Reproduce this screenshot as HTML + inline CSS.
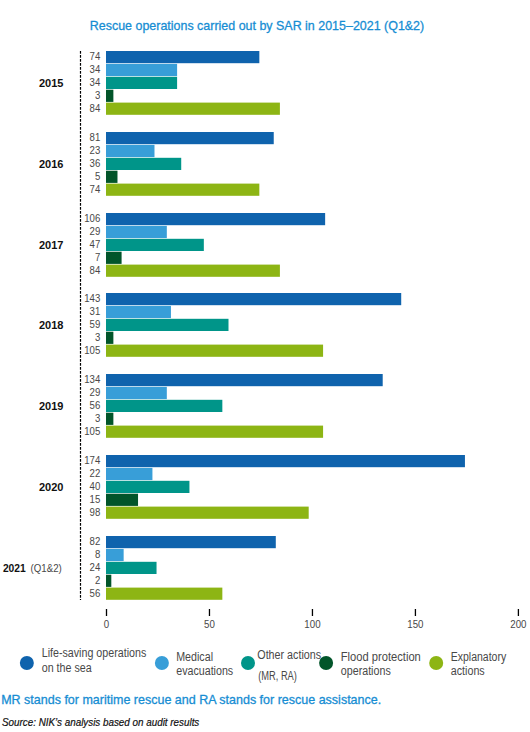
<!DOCTYPE html><html><head><meta charset="utf-8"><style>html,body{margin:0;padding:0;background:#fff;width:530px;height:732px;overflow:hidden}svg{display:block}text{font-family:"Liberation Sans",sans-serif}</style></head><body>
<svg width="530" height="732" viewBox="0 0 530 732">
<text x="89.8" y="29.8" font-size="13.6" stroke="#168dd3" stroke-width="0.3" fill="#168dd3" textLength="334.4" lengthAdjust="spacingAndGlyphs">Rescue operations carried out by SAR in 2015–2021 (Q1&amp;2)</text>
<line x1="80.5" y1="51" x2="80.5" y2="600" stroke="#000" stroke-width="1.2" stroke-dasharray="2.7 1.3"/>
<rect x="106" y="51.00" width="153.34" height="12.2" fill="#0f63ad"/>
<text x="100.3" y="60.25" font-size="11.2" fill="#484848" text-anchor="end" textLength="10.70" lengthAdjust="spacingAndGlyphs">74</text>
<rect x="106" y="63.90" width="71.10" height="12.2" fill="#389ed8"/>
<text x="100.3" y="73.15" font-size="11.2" fill="#484848" text-anchor="end" textLength="10.70" lengthAdjust="spacingAndGlyphs">34</text>
<rect x="106" y="76.80" width="71.10" height="12.2" fill="#009589"/>
<text x="100.3" y="86.05" font-size="11.2" fill="#484848" text-anchor="end" textLength="10.70" lengthAdjust="spacingAndGlyphs">34</text>
<rect x="106" y="89.70" width="7.37" height="12.2" fill="#02552a"/>
<text x="100.3" y="98.95" font-size="11.2" fill="#484848" text-anchor="end" textLength="5.35" lengthAdjust="spacingAndGlyphs">3</text>
<rect x="106" y="102.60" width="173.90" height="12.2" fill="#8db514"/>
<text x="100.3" y="111.85" font-size="11.2" fill="#484848" text-anchor="end" textLength="10.70" lengthAdjust="spacingAndGlyphs">84</text>
<text x="39" y="86.70" font-size="11" font-weight="bold" fill="#111" textLength="24.5" lengthAdjust="spacingAndGlyphs">2015</text>
<rect x="106" y="132.00" width="167.74" height="12.2" fill="#0f63ad"/>
<text x="100.3" y="141.25" font-size="11.2" fill="#484848" text-anchor="end" textLength="10.70" lengthAdjust="spacingAndGlyphs">81</text>
<rect x="106" y="144.90" width="48.49" height="12.2" fill="#389ed8"/>
<text x="100.3" y="154.15" font-size="11.2" fill="#484848" text-anchor="end" textLength="10.70" lengthAdjust="spacingAndGlyphs">23</text>
<rect x="106" y="157.80" width="75.22" height="12.2" fill="#009589"/>
<text x="100.3" y="167.05" font-size="11.2" fill="#484848" text-anchor="end" textLength="10.70" lengthAdjust="spacingAndGlyphs">36</text>
<rect x="106" y="170.70" width="11.48" height="12.2" fill="#02552a"/>
<text x="100.3" y="179.95" font-size="11.2" fill="#484848" text-anchor="end" textLength="5.35" lengthAdjust="spacingAndGlyphs">5</text>
<rect x="106" y="183.60" width="153.34" height="12.2" fill="#8db514"/>
<text x="100.3" y="192.85" font-size="11.2" fill="#484848" text-anchor="end" textLength="10.70" lengthAdjust="spacingAndGlyphs">74</text>
<text x="39" y="167.70" font-size="11" font-weight="bold" fill="#111" textLength="24.5" lengthAdjust="spacingAndGlyphs">2016</text>
<rect x="106" y="213.00" width="219.14" height="12.2" fill="#0f63ad"/>
<text x="100.3" y="222.25" font-size="11.2" fill="#484848" text-anchor="end" textLength="16.05" lengthAdjust="spacingAndGlyphs">106</text>
<rect x="106" y="225.90" width="60.82" height="12.2" fill="#389ed8"/>
<text x="100.3" y="235.15" font-size="11.2" fill="#484848" text-anchor="end" textLength="10.70" lengthAdjust="spacingAndGlyphs">29</text>
<rect x="106" y="238.80" width="97.83" height="12.2" fill="#009589"/>
<text x="100.3" y="248.05" font-size="11.2" fill="#484848" text-anchor="end" textLength="10.70" lengthAdjust="spacingAndGlyphs">47</text>
<rect x="106" y="251.70" width="15.59" height="12.2" fill="#02552a"/>
<text x="100.3" y="260.95" font-size="11.2" fill="#484848" text-anchor="end" textLength="5.35" lengthAdjust="spacingAndGlyphs">7</text>
<rect x="106" y="264.60" width="173.90" height="12.2" fill="#8db514"/>
<text x="100.3" y="273.85" font-size="11.2" fill="#484848" text-anchor="end" textLength="10.70" lengthAdjust="spacingAndGlyphs">84</text>
<text x="39" y="248.70" font-size="11" font-weight="bold" fill="#111" textLength="24.5" lengthAdjust="spacingAndGlyphs">2017</text>
<rect x="106" y="293.00" width="295.21" height="12.2" fill="#0f63ad"/>
<text x="100.3" y="302.25" font-size="11.2" fill="#484848" text-anchor="end" textLength="16.05" lengthAdjust="spacingAndGlyphs">143</text>
<rect x="106" y="305.90" width="64.94" height="12.2" fill="#389ed8"/>
<text x="100.3" y="315.15" font-size="11.2" fill="#484848" text-anchor="end" textLength="10.70" lengthAdjust="spacingAndGlyphs">31</text>
<rect x="106" y="318.80" width="122.50" height="12.2" fill="#009589"/>
<text x="100.3" y="328.05" font-size="11.2" fill="#484848" text-anchor="end" textLength="10.70" lengthAdjust="spacingAndGlyphs">59</text>
<rect x="106" y="331.70" width="7.37" height="12.2" fill="#02552a"/>
<text x="100.3" y="340.95" font-size="11.2" fill="#484848" text-anchor="end" textLength="5.35" lengthAdjust="spacingAndGlyphs">3</text>
<rect x="106" y="344.60" width="217.08" height="12.2" fill="#8db514"/>
<text x="100.3" y="353.85" font-size="11.2" fill="#484848" text-anchor="end" textLength="16.05" lengthAdjust="spacingAndGlyphs">105</text>
<text x="39" y="328.70" font-size="11" font-weight="bold" fill="#111" textLength="24.5" lengthAdjust="spacingAndGlyphs">2018</text>
<rect x="106" y="374.00" width="276.70" height="12.2" fill="#0f63ad"/>
<text x="100.3" y="383.25" font-size="11.2" fill="#484848" text-anchor="end" textLength="16.05" lengthAdjust="spacingAndGlyphs">134</text>
<rect x="106" y="386.90" width="60.82" height="12.2" fill="#389ed8"/>
<text x="100.3" y="396.15" font-size="11.2" fill="#484848" text-anchor="end" textLength="10.70" lengthAdjust="spacingAndGlyphs">29</text>
<rect x="106" y="399.80" width="116.34" height="12.2" fill="#009589"/>
<text x="100.3" y="409.05" font-size="11.2" fill="#484848" text-anchor="end" textLength="10.70" lengthAdjust="spacingAndGlyphs">56</text>
<rect x="106" y="412.70" width="7.37" height="12.2" fill="#02552a"/>
<text x="100.3" y="421.95" font-size="11.2" fill="#484848" text-anchor="end" textLength="5.35" lengthAdjust="spacingAndGlyphs">3</text>
<rect x="106" y="425.60" width="217.08" height="12.2" fill="#8db514"/>
<text x="100.3" y="434.85" font-size="11.2" fill="#484848" text-anchor="end" textLength="16.05" lengthAdjust="spacingAndGlyphs">105</text>
<text x="39" y="409.70" font-size="11" font-weight="bold" fill="#111" textLength="24.5" lengthAdjust="spacingAndGlyphs">2019</text>
<rect x="106" y="455.00" width="358.94" height="12.2" fill="#0f63ad"/>
<text x="100.3" y="464.25" font-size="11.2" fill="#484848" text-anchor="end" textLength="16.05" lengthAdjust="spacingAndGlyphs">174</text>
<rect x="106" y="467.90" width="46.43" height="12.2" fill="#389ed8"/>
<text x="100.3" y="477.15" font-size="11.2" fill="#484848" text-anchor="end" textLength="10.70" lengthAdjust="spacingAndGlyphs">22</text>
<rect x="106" y="480.80" width="83.44" height="12.2" fill="#009589"/>
<text x="100.3" y="490.05" font-size="11.2" fill="#484848" text-anchor="end" textLength="10.70" lengthAdjust="spacingAndGlyphs">40</text>
<rect x="106" y="493.70" width="32.04" height="12.2" fill="#02552a"/>
<text x="100.3" y="502.95" font-size="11.2" fill="#484848" text-anchor="end" textLength="10.70" lengthAdjust="spacingAndGlyphs">15</text>
<rect x="106" y="506.60" width="202.69" height="12.2" fill="#8db514"/>
<text x="100.3" y="515.85" font-size="11.2" fill="#484848" text-anchor="end" textLength="10.70" lengthAdjust="spacingAndGlyphs">98</text>
<text x="39" y="490.70" font-size="11" font-weight="bold" fill="#111" textLength="24.5" lengthAdjust="spacingAndGlyphs">2020</text>
<rect x="106" y="536.00" width="169.79" height="12.2" fill="#0f63ad"/>
<text x="100.3" y="545.25" font-size="11.2" fill="#484848" text-anchor="end" textLength="10.70" lengthAdjust="spacingAndGlyphs">82</text>
<rect x="106" y="548.90" width="17.65" height="12.2" fill="#389ed8"/>
<text x="100.3" y="558.15" font-size="11.2" fill="#484848" text-anchor="end" textLength="5.35" lengthAdjust="spacingAndGlyphs">8</text>
<rect x="106" y="561.80" width="50.54" height="12.2" fill="#009589"/>
<text x="100.3" y="571.05" font-size="11.2" fill="#484848" text-anchor="end" textLength="10.70" lengthAdjust="spacingAndGlyphs">24</text>
<rect x="106" y="574.70" width="5.31" height="12.2" fill="#02552a"/>
<text x="100.3" y="583.95" font-size="11.2" fill="#484848" text-anchor="end" textLength="5.35" lengthAdjust="spacingAndGlyphs">2</text>
<rect x="106" y="587.60" width="116.34" height="12.2" fill="#8db514"/>
<text x="100.3" y="596.85" font-size="11.2" fill="#484848" text-anchor="end" textLength="10.70" lengthAdjust="spacingAndGlyphs">56</text>
<text x="2.9" y="571.70" font-size="11" font-weight="bold" fill="#111" textLength="22.9" lengthAdjust="spacingAndGlyphs">2021</text>
<text x="30.6" y="571.70" font-size="11" fill="#484848" textLength="31.2" lengthAdjust="spacingAndGlyphs">(Q1&amp;2)</text>
<line x1="106.50" y1="609" x2="106.50" y2="616" stroke="#000" stroke-width="1.3"/>
<text x="106.50" y="628" font-size="11.5" fill="#484848" text-anchor="middle" textLength="5.40" lengthAdjust="spacingAndGlyphs">0</text>
<line x1="209.47" y1="609" x2="209.47" y2="616" stroke="#000" stroke-width="1.3"/>
<text x="209.47" y="628" font-size="11.5" fill="#484848" text-anchor="middle" textLength="10.80" lengthAdjust="spacingAndGlyphs">50</text>
<line x1="312.45" y1="609" x2="312.45" y2="616" stroke="#000" stroke-width="1.3"/>
<text x="312.45" y="628" font-size="11.5" fill="#484848" text-anchor="middle" textLength="16.20" lengthAdjust="spacingAndGlyphs">100</text>
<line x1="415.42" y1="609" x2="415.42" y2="616" stroke="#000" stroke-width="1.3"/>
<text x="415.42" y="628" font-size="11.5" fill="#484848" text-anchor="middle" textLength="16.20" lengthAdjust="spacingAndGlyphs">150</text>
<line x1="518.40" y1="609" x2="518.40" y2="616" stroke="#000" stroke-width="1.3"/>
<text x="518.40" y="628" font-size="11.5" fill="#484848" text-anchor="middle" textLength="16.20" lengthAdjust="spacingAndGlyphs">200</text>
<circle cx="26.85" cy="663" r="7" fill="#0f63ad"/>
<text x="41.7" y="656.9" font-size="12" fill="#484848" textLength="104.6" lengthAdjust="spacingAndGlyphs">Life-saving operations</text>
<text x="41.7" y="671.7" font-size="12" fill="#484848" textLength="49.93" lengthAdjust="spacingAndGlyphs">on the sea</text>
<circle cx="161.9" cy="663" r="7" fill="#389ed8"/>
<text x="176.2" y="660.7" font-size="12" fill="#484848" textLength="36.84" lengthAdjust="spacingAndGlyphs">Medical</text>
<text x="176.2" y="674.8" font-size="12" fill="#484848" textLength="57" lengthAdjust="spacingAndGlyphs">evacuations</text>
<circle cx="248" cy="663" r="7" fill="#009589"/>
<text x="257.3" y="658.9" font-size="12" fill="#484848" textLength="63.8" lengthAdjust="spacingAndGlyphs">Other actions</text>
<text x="258.2" y="680.3" font-size="12" fill="#484848" textLength="38.7" lengthAdjust="spacingAndGlyphs">(MR, RA)</text>
<circle cx="326.1" cy="663" r="7" fill="#02552a"/>
<text x="340.8" y="660.7" font-size="12" fill="#484848" textLength="80" lengthAdjust="spacingAndGlyphs">Flood protection</text>
<text x="340.8" y="674.8" font-size="12" fill="#484848" textLength="49.93" lengthAdjust="spacingAndGlyphs">operations</text>
<circle cx="436.2" cy="663" r="7" fill="#8db514"/>
<text x="450.8" y="660.8" font-size="12" fill="#484848" textLength="55.4" lengthAdjust="spacingAndGlyphs">Explanatory</text>
<text x="450.8" y="674.7" font-size="12" fill="#484848" textLength="33.88" lengthAdjust="spacingAndGlyphs">actions</text>
<text x="1.2" y="703.7" font-size="13.2" stroke="#168dd3" stroke-width="0.3" fill="#168dd3" textLength="380" lengthAdjust="spacingAndGlyphs">MR stands for maritime rescue and RA stands for rescue assistance.</text>
<text x="2" y="726.3" font-size="10.8" font-style="italic" fill="#111" stroke="#111" stroke-width="0.2" textLength="197.3" lengthAdjust="spacingAndGlyphs">Source: NIK’s analysis based on audit results</text>
</svg></body></html>
